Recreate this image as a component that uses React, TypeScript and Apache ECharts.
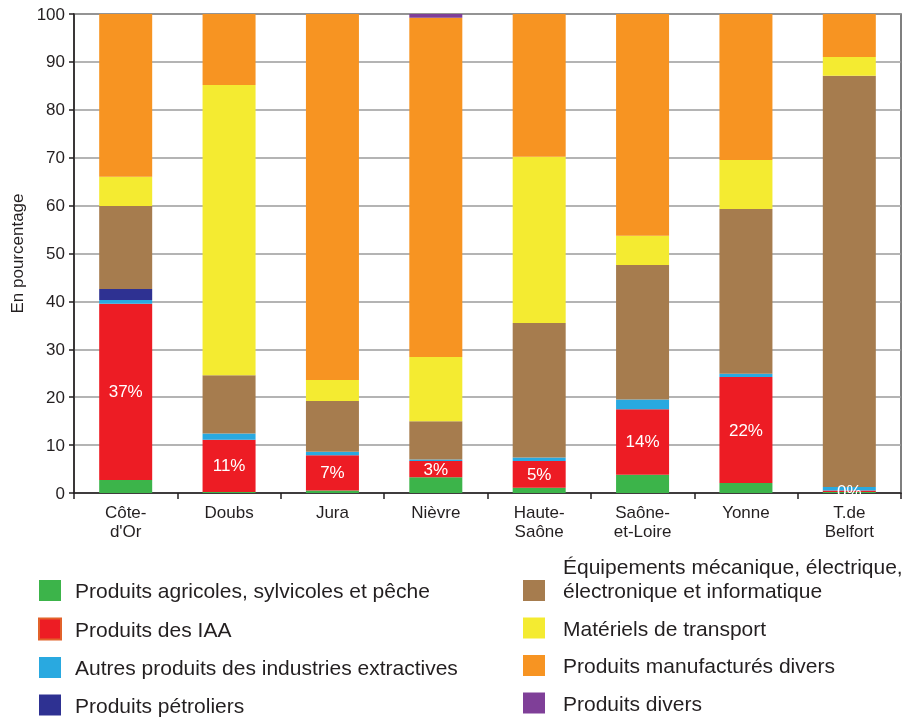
import React, { useEffect, useRef } from "react";
import * as echarts from "echarts";

const categories = ["Côte-\nd'Or", "Doubs", "Jura", "Nièvre", "Haute-\nSaône", "Saône-\net-Loire", "Yonne", "T.de\nBelfort"];
const yTicks = [0, 10, 20, 30, 40, 50, 60, 70, 80, 90, 100];

const agricoles = [2.7, 0.2, 0.5, 3.3, 1.1, 3.8, 2.1, 0.2];
const iaa = [36.8, 10.9, 7.4, 3.4, 5.6, 13.7, 22.1, 0.3];
const extractives = [0.8, 1.3, 0.7, 0.3, 0.7, 2.0, 0.7, 0.75];
const petroliers = [2.3, 0, 0, 0, 0, 0, 0, 0];
const equipements = [17.3, 12.2, 10.6, 8.0, 28.1, 28.1, 34.4, 85.85];
const transport = [6.1, 60.6, 4.4, 13.4, 34.7, 6.1, 10.2, 3.9];
const manufactures = [34.0, 14.8, 76.4, 70.8, 29.8, 46.3, 30.5, 9.0];
const divers = [0, 0, 0, 0.8, 0, 0, 0, 0];
const iaaLabels = ["37%", "11%", "7%", "3%", "5%", "14%", "22%", "0%"];

const seriesNames = [
  "Produits agricoles, sylvicoles et pêche",
  "Produits des IAA",
  "Autres produits des industries extractives",
  "Produits pétroliers",
  "Équipements mécanique, électrique, électronique et informatique",
  "Matériels de transport",
  "Produits manufacturés divers",
  "Produits divers",
];
const seriesData = [agricoles, iaa, extractives, petroliers, equipements, transport, manufactures, divers];
const colors = ["#3cb44a", "#ed1c24", "#29a9e0", "#2e3192", "#a67c4e", "#f4eb31", "#f79422", "#7f3f98"];

const FONT = "'Liberation Sans', Arial, sans-serif";
const TEXT = "#231f20";

export default function App() {
  const ref = useRef<HTMLDivElement>(null);
  useEffect(() => {
    if (!ref.current) return;
    const chart = echarts.init(ref.current, null, { renderer: "svg" });
    const series = seriesNames.map((name, i) => ({
      name,
      type: "bar",
      stack: "total",
      barWidth: 53,
      data: seriesData[i],
      itemStyle: { color: colors[i] },
      label:
        i === 1
          ? {
              show: true,
              position: "inside",
              color: "#ffffff",
              fontSize: 17,
              fontFamily: FONT,
              formatter: (p: any) => iaaLabels[p.dataIndex],
            }
          : { show: false },
    }));
    const legendCommon = {
      orient: "vertical",
      top: 580,
      height: 180,
      padding: 0,
      itemWidth: 22,
      itemHeight: 21,
      itemGap: 16.5,
      icon: "rect",
      selectedMode: false,
    };
    chart.setOption({
      animation: false,
      textStyle: { fontFamily: FONT },
      grid: {
        left: 74,
        right: 21,
        top: 14,
        bottom: 224,
        show: true,
        borderColor: "#555555",
        borderWidth: 1.5,
      },
      xAxis: {
        type: "category",
        data: categories,
        axisLine: { lineStyle: { color: TEXT, width: 1.5 } },
        axisTick: { show: true, length: 6, lineStyle: { color: TEXT, width: 1.5 } },
        axisLabel: { fontSize: 17, lineHeight: 19, color: TEXT, margin: 10, fontFamily: FONT },
      },
      yAxis: {
        type: "value",
        min: 0,
        max: 100,
        interval: 10,
        name: "En pourcentage",
        nameLocation: "middle",
        nameGap: 42,
        nameTextStyle: { fontSize: 17, color: TEXT, fontFamily: FONT },
        axisLine: { show: true, lineStyle: { color: TEXT, width: 1.5 } },
        axisTick: { show: true, length: 5, lineStyle: { color: TEXT, width: 1.5 } },
        axisLabel: {
          fontSize: 17,
          color: TEXT,
          margin: 9,
          fontFamily: FONT,
          formatter: (v: number) => (yTicks.includes(v) ? String(v) : ""),
        },
        splitLine: { show: true, lineStyle: { color: "#9b9b9b", width: 1.5 } },
      },
      legend: [
        {
          ...legendCommon,
          left: 38,
          textStyle: { fontSize: 21, fontFamily: FONT, color: TEXT, lineHeight: 21, padding: [0, 0, 0, 9] },
          data: [
            { name: seriesNames[0] },
            { name: seriesNames[1], itemStyle: { borderColor: "#e2622b", borderWidth: 2 } },
            { name: seriesNames[2] },
            { name: seriesNames[3] },
          ],
        },
        {
          ...legendCommon,
          left: 523,
          textStyle: { fontSize: 21, fontFamily: FONT, color: TEXT, lineHeight: 21, padding: [0, 0, 0, 13] },
          formatter: (name: string) => (name === seriesNames[4] ? "électronique et informatique" : name),
          data: [{ name: seriesNames[4] }, { name: seriesNames[5] }, { name: seriesNames[6] }, { name: seriesNames[7] }],
        },
      ],
      graphic: [
        {
          type: "text",
          left: 563,
          top: 556,
          style: { text: "Équipements mécanique, électrique,", font: `21px ${FONT}`, fill: TEXT },
        },
      ],
      series,
    });
    return () => chart.dispose();
  }, []);
  return <div ref={ref} style={{ position: "fixed", left: 0, top: 0, width: 922, height: 717 }} />;
}
